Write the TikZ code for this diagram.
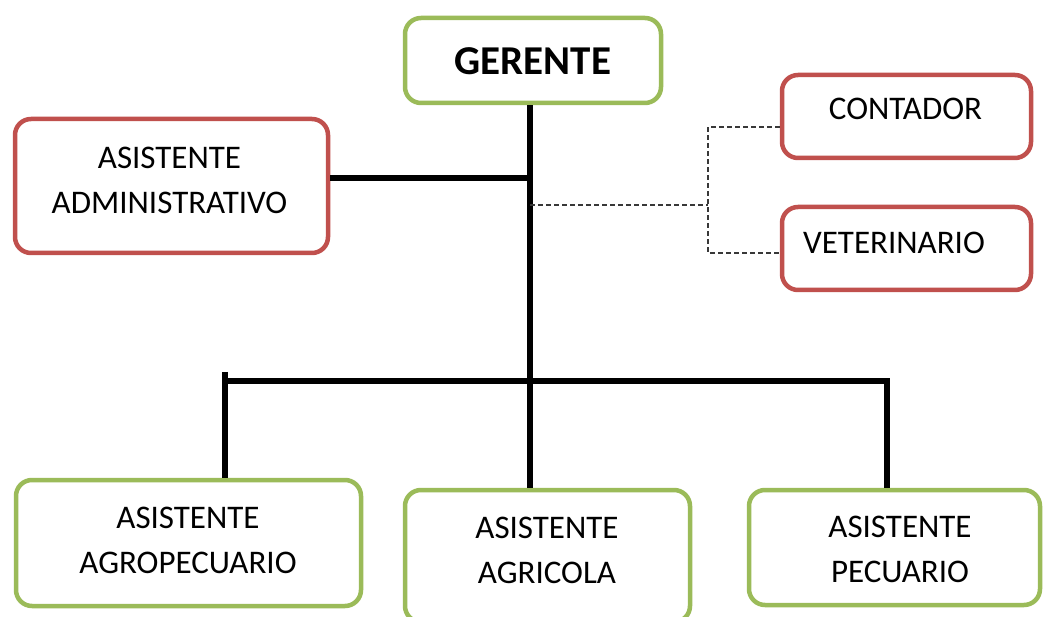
\documentclass[tikz,border=0pt]{standalone}
\usepackage{fontspec}
\setmainfont{Carlito}
\definecolor{boxgreen}{HTML}{9BBB59}
\definecolor{boxred}{HTML}{C0504D}
\definecolor{dashgray}{HTML}{383838}
\begin{document}
\begin{tikzpicture}[x=1pt,y=-1pt,
  box/.style={draw, line width=4.5pt, rounded corners=16pt, fill=white, inner sep=0pt},
  gbox/.style={box, draw=boxgreen},
  rbox/.style={box, draw=boxred},
  lbl/.style={inner sep=0pt, align=center, font=\fontsize{33}{45}\selectfont},
  conn/.style={line width=5.5pt, black},
  busline/.style={line width=6.5pt, black},
  dashline/.style={line width=1.3pt, dashgray, dash pattern=on 5pt off 3pt}
]
\useasboundingbox (0,0) rectangle (1044,617);
\clip (0,0) rectangle (1044,617);

% junction coordinates
\coordinate (j1) at (530,178);
\coordinate (j2) at (530,205);
\coordinate (j3) at (530,381);
\coordinate (dx) at (708,205);
\coordinate (bltop) at (225,372);
\coordinate (bl) at (225,381);
\coordinate (br) at (887,381);

% boxes
\node[gbox, minimum width=256pt, minimum height=85pt] (ger) at (533,60.5) {};
\node[rbox, minimum width=313pt, minimum height=134pt] (adm) at (171.5,186) {};
\node[rbox, minimum width=249pt, minimum height=83pt] (con) at (906.5,116.5) {};
\node[rbox, minimum width=249pt, minimum height=83pt] (vet) at (906.5,248.5) {};
\node[gbox, minimum width=345pt, minimum height=126pt] (agp) at (188.5,543) {};
\node[gbox, minimum width=285pt, minimum height=132pt] (agr) at (547.5,556) {};
\node[gbox, minimum width=291pt, minimum height=115pt] (pec) at (894.5,547.5) {};

% texts
\node[inner sep=0pt, font=\bfseries\fontsize{41}{46}\selectfont] (gert) at (533,61) {GERENTE};
\node[lbl] (admt) at (169.5,180.5) {ASISTENTE\\ADMINISTRATIVO};
\node[lbl] (cont) at (905.5,108.5) {CONTADOR};
\node[lbl] (vett) at (894,242.5) {VETERINARIO};
\node[lbl] (agpt) at (188,540) {ASISTENTE\\AGROPECUARIO};
\node[lbl] (agrt) at (547,550.5) {ASISTENTE\\AGRICOLA};
\node[lbl] (pect) at (900,549.5) {ASISTENTE\\PECUARIO};

% solid connectors
\draw[conn] (ger.south -| j3) -- (j3);
\draw[conn] (adm.east |- j1) -- (j1);
\draw[busline] (j3) -- (j3 |- agr.north);
\draw[busline, line join=miter] (bl) -- (br) -- (br |- pec.north);
\draw[busline] (bltop) -- (bltop |- agp.north);

% dashed connectors
\draw[dashline] (j2) -- (dx);
\draw[dashline] ([yshift=-10.5pt]con.west) -| (dx) |- ([yshift=-4.5pt]vet.west);
\end{tikzpicture}
\end{document}
